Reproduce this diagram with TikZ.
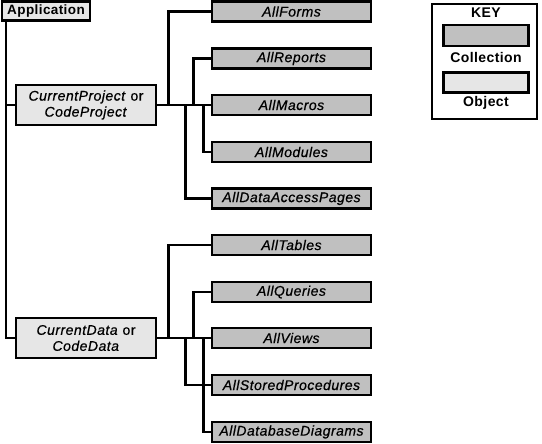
\documentclass[tikz,border=0pt]{standalone}
\usepackage{fontspec}
\setmainfont{Liberation Sans}
\newfontfamily\lblfont[LetterSpace=3.5, FakeBold=0.6]{Liberation Sans}
\newfontfamily\keyfont[LetterSpace=3.0]{Liberation Sans}
\definecolor{collgray}{RGB}{192,192,192}
\definecolor{objgray}{RGB}{230,230,230}
\tikzset{
  coll/.style={draw, line width=2.5pt, fill=collgray, minimum width=159pt, minimum height=20pt, inner sep=0pt, font=\lblfont\fontsize{14}{16}\selectfont\itshape},
  obj/.style={draw, line width=2.5pt, fill=objgray, inner sep=0pt, align=center, font=\lblfont\fontsize{14}{16}\selectfont},
  keytext/.style={font=\keyfont\fontsize{14}{16}\selectfont\bfseries},
  link/.style={line width=2.5pt}
}
\begin{document}
\begin{tikzpicture}[x=1pt, y=-1pt]
\useasboundingbox (0,0) rectangle (542,444);

\node[obj, minimum width=88pt, minimum height=19pt, font=\keyfont\fontsize{13.5}{16}\selectfont\bfseries] (app) at (46,11) {Application};

\node[obj, minimum width=140pt, minimum height=40pt] (cproj) at (86,105) {\textit{CurrentProject} or\\\textit{CodeProject}};
\node[obj, minimum width=140pt, minimum height=40pt] (cdata) at (86,338) {\textit{CurrentData} or\\\textit{CodeData}};

\node[coll] (forms)   at (291.5,11.5)  {AllForms};
\node[coll] (reports) at (291.5,58.5)  {AllReports};
\node[coll] (macros)  at (291.5,105)   {AllMacros};
\node[coll] (modules) at (291.5,152)   {AllModules};
\node[coll] (dap)     at (291.5,198.5) {AllDataAccessPages};

\node[coll] (tables)   at (291.5,245) {AllTables};
\node[coll] (queries)  at (291.5,292) {AllQueries};
\node[coll] (views)    at (291.5,338) {AllViews};
\node[coll] (stored)   at (291.5,385) {AllStoredProcedures};
\node[coll] (diagrams) at (291.5,432) {AllDatabaseDiagrams};

\draw[link] ([xshift=5pt]app.south west) |- (cproj.west);
\draw[link] ([xshift=5pt]app.south west) |- (cdata.west);

\draw[link] (cproj.east) -- (macros.west);
\draw[link] ([xshift=11pt]cproj.east) |- (forms.west);
\draw[link] ([xshift=36pt]cproj.east) |- (reports.west);
\draw[link] ([xshift=46pt]cproj.east) |- (modules.west);
\draw[link] ([xshift=28pt]cproj.east) |- (dap.west);

\draw[link] (cdata.east) -- (views.west);
\draw[link] ([xshift=11pt]cdata.east) |- (tables.west);
\draw[link] ([xshift=36pt]cdata.east) |- (queries.west);
\draw[link] ([xshift=46pt]cdata.east) |- (diagrams.west);
\draw[link] ([xshift=28pt]cdata.east) |- (stored.west);

\node[draw, line width=2.5pt, minimum width=105pt, minimum height=115pt] (key) at (484.5,61.5) {};
\node[keytext] (keytitle) at (486,13) {KEY};
\node[coll, minimum width=85pt, minimum height=21pt] (keycoll) at (486,35.5) {};
\node[keytext] (collname) at (486,57) {Collection};
\node[obj, minimum width=85pt, minimum height=20pt] (keyobj) at (486,82.5) {};
\node[keytext] (objname) at (486,103) {Object};
\end{tikzpicture}
\end{document}
